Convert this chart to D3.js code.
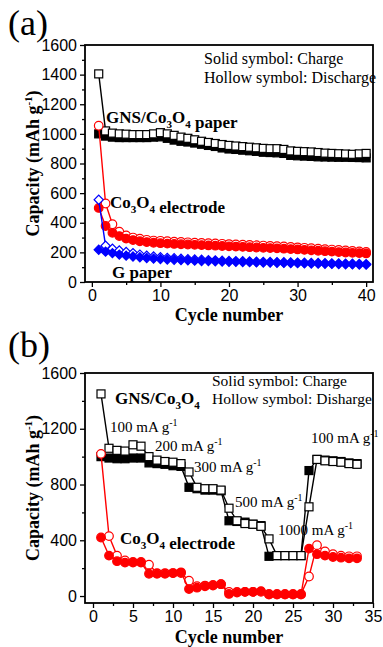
<!DOCTYPE html>
<html><head><meta charset="utf-8">
<script src="https://cdn.jsdelivr.net/npm/d3@7"></script>
<style>html,body{margin:0;padding:0;background:#fff}svg{display:block}</style>
</head><body>
<script>
// ---------- DATA ----------
const cyclesA = d3.range(1, 41);
const gnsChargeA = [1000,985,978,975,975,975,975,975,978,980,970,958,950,945,938,930,922,915,905,898,895,890,886,882,876,874,872,868,855,852,850,848,845,844,843,842,842,841,840,838];
const gnsDischargeA = [1405,1020,1005,1000,998,995,995,995,1000,1008,1000,990,978,970,960,950,942,935,928,922,918,914,910,906,902,900,900,895,885,882,880,878,874,870,868,866,864,862,865,868];
const coChargeA = [500,378,332,310,293,283,275,269,265,262,259,257,255,253,251,249,247,245,243,241,239,237,235,233,231,229,227,225,222,220,217,214,211,208,205,202,199,197,195,193];
const coDischargeA = [1055,530,390,340,315,300,292,285,280,278,275,272,270,268,266,264,262,260,258,256,254,252,250,248,246,244,242,240,237,234,231,228,225,222,219,216,213,210,206,203];
const gChargeA = [218,205,195,185,178,172,167,162,158,155,152,150,148,146,144,142,141,140,138,137,136,135,134,133,132,131,130,129,128,127,126,125,124,123,122,121,120,119,118,117];
const gDischargeA = [555,245,225,213,203,195,185,178,172,167,163,160,157,154,152,150,148,146,144,142,141,140,139,137,136,135,134,133,132,131,130,129,128,127,126,125,124,123,122,121];

const cyclesB = d3.range(1, 34);
const gnsChargeB = [1000,990,985,985,990,990,955,950,945,935,930,780,770,760,760,755,540,535,530,515,505,285,290,290,290,290,900,980,975,970,965,955,950];
const gnsDischargeB = [1450,1060,1045,1040,1085,1075,1000,975,965,960,950,890,780,770,770,760,630,540,520,515,500,410,290,290,290,290,640,980,970,965,960,950,945];
const coChargeB = [420,290,250,240,240,240,160,160,160,165,170,50,60,70,75,85,15,25,30,30,35,10,10,10,10,10,340,300,290,280,275,270,270];
const coDischargeB = [1020,430,290,255,245,245,225,165,165,165,165,110,70,75,80,85,30,30,30,30,30,15,15,15,15,15,140,365,320,300,290,285,285];

const yTicksA = [0,200,400,600,800,1000,1200,1400,1600];
const xTicksA = [0,10,20,30,40];
const yTicksB = [0,400,800,1200,1600];
const xTicksB = [0,5,10,15,20,25,30,35];

// ---------- DRAW ----------
const W = 383, H = 647;
const svg = d3.select("body").append("svg").attr("width", W).attr("height", H)
  .style("font-family", "'Liberation Serif','Times New Roman',serif");

const RED = "#ff0000", BLUE = "#0000ff", BLACK = "#000";

function panel(cfg) {
  const g = svg.append("g");
  const x = d3.scaleLinear().domain(cfg.xDomain).range([85, 373]);
  const y = d3.scaleLinear().domain(cfg.yDomain).range([cfg.bottom, cfg.top]);

  const xAxis = d3.axisBottom(x).tickValues(cfg.xTicks).tickSize(5).tickPadding(3).tickFormat(d3.format("d"));
  const yAxis = d3.axisLeft(y).tickValues(cfg.yTicks).tickSize(5).tickPadding(3).tickFormat(d3.format("d"));
  const xMinor = d3.axisBottom(x).tickValues(cfg.xMinor).tickSize(3).tickFormat("");
  const yMinor = d3.axisLeft(y).tickValues(cfg.yMinor).tickSize(3).tickFormat("");

  const gx = g.append("g").attr("transform", `translate(0,${cfg.bottom})`).call(xAxis);
  g.append("g").attr("transform", `translate(0,${cfg.bottom})`).call(xMinor).select(".domain").remove();
  const gy = g.append("g").attr("transform", `translate(85,0)`).call(yAxis);
  g.append("g").attr("transform", `translate(85,0)`).call(yMinor).select(".domain").remove();
  [gx, gy].forEach(a => {
    a.select(".domain").remove();
    a.selectAll("text").style("font-size", "16px").attr("fill", "#000");
  });
  g.selectAll(".tick line").attr("stroke", "#000").attr("stroke-width", 1.3);
  g.append("rect").attr("x", 85).attr("y", cfg.top).attr("width", 288).attr("height", cfg.bottom - cfg.top)
    .attr("fill", "none").attr("stroke", "#000").attr("stroke-width", 1.8);

  const line = d3.line().x((d, i) => x(cfg.cycles[i])).y(d => y(d));

  function series(vals, color, shape, filled) {
    g.append("path").datum(vals).attr("d", line).attr("fill", "none").attr("stroke", color).attr("stroke-width", 1.4);
    const pts = g.append("g").selectAll("g").data(vals).join("g")
      .attr("transform", (d, i) => `translate(${x(cfg.cycles[i])},${y(d)})`);
    const fill = filled ? color : "#fff";
    if (shape === "square") {
      pts.append("rect").attr("x", -4).attr("y", -4).attr("width", 8).attr("height", 8)
        .attr("fill", fill).attr("stroke", color).attr("stroke-width", 1.2);
    } else if (shape === "circle") {
      pts.append("circle").attr("r", 4.3).attr("fill", fill).attr("stroke", color).attr("stroke-width", 1.2);
    } else {
      pts.append("path").attr("d", d3.symbol(d3.symbolSquare, 42)()).attr("transform", "rotate(45)")
        .attr("fill", fill).attr("stroke", color).attr("stroke-width", 1.2);
    }
  }
  cfg.series.forEach(s => series(s[0], s[1], s[2], s[3]));

  g.append("text").attr("x", 229).attr("y", cfg.xLabelY).attr("text-anchor", "middle")
    .style("font-size", "18px").style("font-weight", "bold").text("Cycle number");
  const yl = g.append("text").attr("transform", `translate(39,${(cfg.top + cfg.bottom) / 2}) rotate(-90)`)
    .attr("text-anchor", "middle").style("font-size", "18px").style("font-weight", "bold");
  yl.append("tspan").text("Capacity (mAh g");
  yl.append("tspan").attr("dy", -7).style("font-size", "11px").text("-1");
  yl.append("tspan").attr("dy", 7).text(")");
  g.append("text").attr("x", 8).attr("y", cfg.letterY).style("font-size", "36px").text(cfg.letter);
  return g;
}

function co3o4(sel, size) {
  sel.append("tspan").text("Co");
  sel.append("tspan").attr("dy", 5).style("font-size", (size * 0.65) + "px").text("3");
  sel.append("tspan").attr("dy", -5).text("O");
  sel.append("tspan").attr("dy", 5).style("font-size", (size * 0.65) + "px").text("4");
  sel.append("tspan").attr("dy", -5).text("");
}
function label(g, xx, yy, size, bold) {
  return g.append("text").attr("x", xx).attr("y", yy).style("font-size", size + "px")
    .style("font-weight", bold ? "bold" : "normal");
}
function mAg(g, xx, yy, txt) {
  const t = label(g, xx, yy, 15, false);
  t.append("tspan").text(txt + " mA g");
  t.append("tspan").attr("dy", -6).style("font-size", "10px").text("-1");
  return t;
}

// Panel (a)
const pa = panel({
  letter: "(a)", letterY: 35, top: 45, bottom: 282,
  xDomain: [-1, 41], yDomain: [0, 1600],
  xTicks: xTicksA, yTicks: yTicksA, xMinor: [5, 15, 25, 35], yMinor: d3.range(100, 1600, 200),
  xLabelY: 321, cycles: cyclesA,
  series: [
    [gnsChargeA, BLACK, "square", true],
    [gnsDischargeA, BLACK, "square", false],
    [coDischargeA, RED, "circle", false],
    [coChargeA, RED, "circle", true],
    [gDischargeA, BLUE, "diamond", false],
    [gChargeA, BLUE, "diamond", true]
  ]
});
label(pa, 204, 64, 16, false).text("Solid symbol: Charge");
label(pa, 204, 83, 16, false).text("Hollow symbol: Discharge");
{ const t = label(pa, 106, 123, 17, true); t.append("tspan").text("GNS/"); co3o4(t, 17); t.append("tspan").text(" paper"); }
{ const t = label(pa, 110, 208, 17, true); co3o4(t, 17); t.append("tspan").text(" electrode"); }
label(pa, 112, 278, 17, true).text("G paper");

// Panel (b)
const pb = panel({
  letter: "(b)", letterY: 357, top: 373, bottom: 603,
  xDomain: [-1, 35], yDomain: [-50, 1600],
  xTicks: xTicksB, yTicks: yTicksB, xMinor: d3.range(2.5, 35, 5), yMinor: [200, 600, 1000, 1400],
  xLabelY: 643, cycles: cyclesB,
  series: [
    [gnsChargeB, BLACK, "square", true],
    [gnsDischargeB, BLACK, "square", false],
    [coDischargeB, RED, "circle", false],
    [coChargeB, RED, "circle", true]
  ]
});
label(pb, 212, 386, 15.5, false).text("Solid symbol: Charge");
label(pb, 212, 404, 15.5, false).text("Hollow symbol: Disharge");
{ const t = label(pb, 115, 404, 17, true); t.append("tspan").text("GNS/"); co3o4(t, 17); }
mAg(pb, 110, 432, "100");
mAg(pb, 155, 451, "200");
mAg(pb, 311, 443, "100");
mAg(pb, 194, 472, "300");
mAg(pb, 235, 507, "500");
mAg(pb, 278, 535, "1000");
{ const t = label(pb, 120, 544, 17, true); co3o4(t, 17); t.append("tspan").text(" electrode"); }
</script>
</body></html>
